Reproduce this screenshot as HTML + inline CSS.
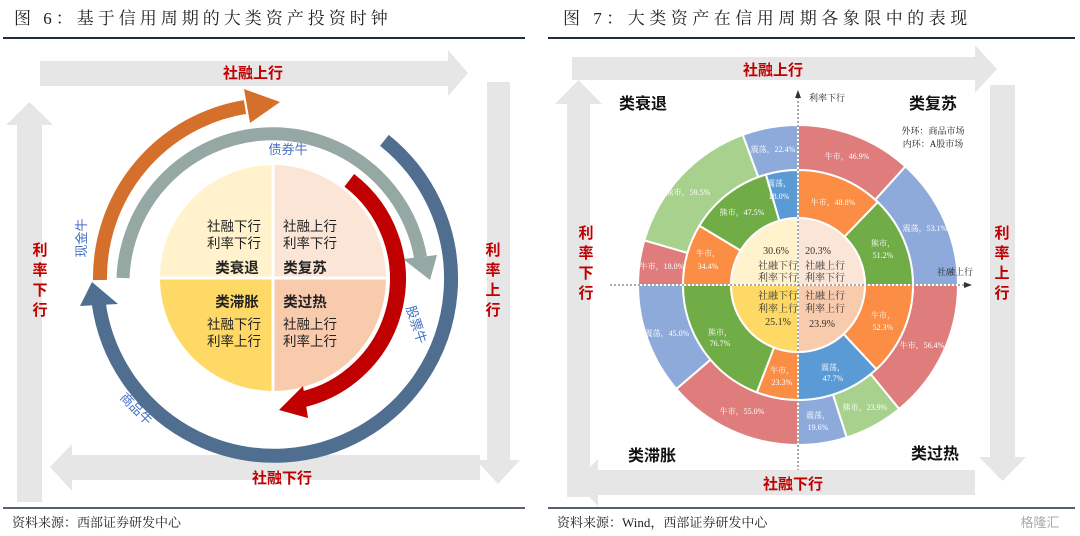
<!DOCTYPE html>
<html><head><meta charset="utf-8">
<style>
html,body{margin:0;padding:0;background:#fff;}
body{width:1080px;height:536px;overflow:hidden;}
svg{display:block;font-family:"Liberation Sans","Noto Sans CJK SC",sans-serif;}
.t{font-family:"Liberation Serif","Noto Serif CJK SC",serif;}
.w{fill:#fff;font-size:8px;text-anchor:middle;}
.c{fill:#333;font-size:10px;text-anchor:middle;}
</style></head><body>
<svg width="1080" height="536" viewBox="0 0 1080 536">
<text class="t" x="14" y="24" font-size="17" fill="#222" letter-spacing="4">图 6：基于信用周期的大类资产投资时钟</text>
<line x1="3" y1="38" x2="525" y2="38" stroke="#1f2d3d" stroke-width="2"/>
<text class="t" x="563" y="24" font-size="17" fill="#222" letter-spacing="4.5">图 7：大类资产在信用周期各象限中的表现</text>
<line x1="548" y1="38" x2="1075" y2="38" stroke="#1f2d3d" stroke-width="2"/>

<g fill="#e6e6e6">
<polygon points="40,61 448,61 448,50 468,73 448,96 448,86 40,86"/>
<polygon points="487,82 510,82 510,460 520,460 498,484 476,460 487,460"/>
<polygon points="480,455 480,480 72,480 72,491 50,467 72,444 72,455"/>
<polygon points="17,502 42,502 42,125 53,125 29.5,102 6,125 17,125"/>
</g>
<text x="253" y="78" font-size="15" font-weight="bold" fill="#c00000" text-anchor="middle">社融上行</text>
<text x="282" y="483" font-size="15" font-weight="bold" fill="#c00000" text-anchor="middle">社融下行</text>
<g font-size="15" font-weight="bold" fill="#c00000" text-anchor="middle">
<text x="40" y="255">利</text><text x="40" y="275">率</text><text x="40" y="295">下</text><text x="40" y="315">行</text>
<text x="493" y="255">利</text><text x="493" y="275">率</text><text x="493" y="295">上</text><text x="493" y="315">行</text>
</g>

<g>
<path d="M160,278 A113,113 0 0 1 273,165 L273,278Z" fill="#fff2cc"/>
<path d="M273,165 A113,113 0 0 1 386,278 L273,278Z" fill="#fbe5d6"/>
<path d="M160,278 A113,113 0 0 0 273,391 L273,278Z" fill="#ffd966"/>
<path d="M273,391 A113,113 0 0 0 386,278 L273,278Z" fill="#f8cbad"/>
<line x1="273" y1="160" x2="273" y2="396" stroke="#fff" stroke-width="3"/>
<line x1="155" y1="278" x2="391" y2="278" stroke="#fff" stroke-width="3"/>
</g>
<path d="M123,278 A150,150 0 0 1 420.5,257.1" fill="none" stroke="#95a8a4" stroke-width="13"/>
<polygon points="430,280 403,259 437,255" fill="#95a8a4"/>
<path d="M100,280 A173,173 0 0 1 245,107" fill="none" stroke="#d5702c" stroke-width="14"/>
<polygon points="280,102 244,89 250,123" fill="#d5702c"/>
<path d="M384.4,140.4 A177,177 0 1 1 98.7,303" fill="none" stroke="#4f6e90" stroke-width="14"/>
<polygon points="92,282 80,306 118,304" fill="#4f6e90"/>
<path d="M349.3,180.3 A124,124 0 0 1 300,400" fill="none" stroke="#c00000" stroke-width="16"/>
<polygon points="279,410 303,386 308,418" fill="#c00000"/>

<g font-size="13" fill="#4472c4">
<text x="288" y="154" text-anchor="middle">债券牛</text>
<text transform="translate(86,238) rotate(-90)" text-anchor="middle">现金牛</text>
<text transform="translate(412,326) rotate(72)" text-anchor="middle">股票牛</text>
<text transform="translate(133,412) rotate(45)" text-anchor="middle">商品牛</text>
</g>
<g font-size="13.5" fill="#222" text-anchor="middle">
<text x="234" y="231">社融下行</text><text x="234" y="248">利率下行</text>
<text x="237" y="273" font-weight="bold" font-size="14.5">类衰退</text>
<text x="310" y="231">社融上行</text><text x="310" y="248">利率下行</text>
<text x="305" y="273" font-weight="bold" font-size="14.5">类复苏</text>
<text x="237" y="307" font-weight="bold" font-size="14.5">类滞胀</text>
<text x="234" y="329">社融下行</text><text x="234" y="346">利率上行</text>
<text x="305" y="307" font-weight="bold" font-size="14.5">类过热</text>
<text x="310" y="329">社融上行</text><text x="310" y="346">利率上行</text>
</g>

<line x1="3" y1="508" x2="525" y2="508" stroke="#1f2d3d" stroke-width="1.5"/>
<text class="t" x="12" y="527" font-size="13" fill="#222">资料来源：西部证券研发中心</text>
<line x1="548" y1="508" x2="1075" y2="508" stroke="#1f2d3d" stroke-width="1.5"/>
<text class="t" x="557" y="527" font-size="13" fill="#222">资料来源：Wind，西部证券研发中心</text>
<text x="1040" y="527" font-size="13" fill="#aaa" text-anchor="middle">格隆汇</text>

<g fill="#e6e6e6">
<polygon points="572,57 975,57 975,45 997,69 975,93 975,80 572,80"/>
<polygon points="990,85 1015,85 1015,457 1026,457 1002.5,481 979,457 990,457"/>
<polygon points="975,470 975,495 598,495 598,506 575,482 598,459 598,470"/>
<polygon points="567,497 590,497 590,104 602,104 578.5,80 555,104 567,104"/>
</g>
<text x="773" y="75" font-size="15" font-weight="bold" fill="#c00000" text-anchor="middle">社融上行</text>
<text x="793" y="489" font-size="15" font-weight="bold" fill="#c00000" text-anchor="middle">社融下行</text>
<g font-size="15" font-weight="bold" fill="#c00000" text-anchor="middle">
<text x="586" y="238">利</text><text x="586" y="258">率</text><text x="586" y="278">下</text><text x="586" y="298">行</text>
<text x="1002" y="238">利</text><text x="1002" y="258">率</text><text x="1002" y="278">上</text><text x="1002" y="298">行</text>
</g>
<g font-size="16" font-weight="bold" fill="#111" text-anchor="middle">
<text x="643" y="109">类衰退</text><text x="933" y="109">类复苏</text>
<text x="652" y="461">类滞胀</text><text x="935" y="459">类过热</text>
</g>
<text x="933" y="134" font-size="9" fill="#222" text-anchor="middle" class="t">外环：商品市场</text>
<text x="933" y="147" font-size="9" fill="#222" text-anchor="middle" class="t">内环：A股市场</text>

<g id="donut" stroke="#fff" stroke-width="2"></g>

<line x1="798" y1="97" x2="798" y2="470" stroke="#555" stroke-dasharray="2,2" stroke-width="1"/>
<polygon points="798,90 795,98 801,98" fill="#333"/>
<line x1="610" y1="285" x2="965" y2="285" stroke="#555" stroke-dasharray="2,2" stroke-width="1"/>
<polygon points="972,285 964,282 964,288" fill="#333"/>
<text x="827" y="101" font-size="9" fill="#222" text-anchor="middle" class="t">利率下行</text>
<text x="955" y="275" font-size="9" fill="#222" text-anchor="middle" class="t">社融上行</text>

<g class="t">
<text class="w" x="773" y="152">震荡，22.4%</text>
<text class="w" x="847" y="159">牛市，46.9%</text>
<text class="w" x="925" y="231">震荡，53.1%</text>
<text class="w" x="688" y="195">熊市，59.5%</text>
<text class="w" x="779" y="186">震荡，</text><text class="w" x="779" y="199">18.0%</text>
<text class="w" x="742" y="215">熊市，47.5%</text>
<text class="w" x="833" y="205">牛市，48.8%</text>
<text class="w" x="883" y="246">熊市，</text><text class="w" x="883" y="258">51.2%</text>
<text class="w" x="708" y="256">牛市，</text><text class="w" x="708" y="269">34.4%</text>
<text class="w" x="662" y="269">牛市，18.0%</text>
<text class="w" x="883" y="318">牛市，</text><text class="w" x="883" y="330">52.3%</text>
<text class="w" x="922" y="348">牛市，56.4%</text>
<text class="w" x="667" y="336">震荡，45.0%</text>
<text class="w" x="720" y="335">熊市，</text><text class="w" x="720" y="346">76.7%</text>
<text class="w" x="782" y="373">牛市，</text><text class="w" x="782" y="385">23.3%</text>
<text class="w" x="833" y="370">震荡，</text><text class="w" x="833" y="381">47.7%</text>
<text class="w" x="865" y="410">熊市，23.9%</text>
<text class="w" x="818" y="418">震荡，</text><text class="w" x="818" y="430">19.6%</text>
<text class="w" x="742" y="414">牛市，55.0%</text>
<text class="c" x="776" y="254">30.6%</text><text class="c" x="818" y="254">20.3%</text>
<text class="c" x="778" y="269">社融下行</text><text class="c" x="778" y="281">利率下行</text>
<text class="c" x="825" y="269">社融上行</text><text class="c" x="825" y="281">利率下行</text>
<text class="c" x="778" y="299">社融下行</text><text class="c" x="778" y="312">利率上行</text><text class="c" x="778" y="325">25.1%</text>
<text class="c" x="825" y="299">社融上行</text><text class="c" x="825" y="312">利率上行</text><text class="c" x="822" y="327">23.9%</text>
</g>
</svg>
<script>
(function(){
var cx=798,cy=285,g=document.getElementById('donut');
function P(r,a){var t=(a-90)*Math.PI/180;return [cx+r*Math.cos(t),cy+r*Math.sin(t)];}
function sec(r0,r1,a0,a1,col){
 var p1=P(r1,a0),p2=P(r1,a1),p3=P(r0,a1),p4=P(r0,a0),l=(a1-a0)>180?1:0;
 var d="M"+p1+" A"+r1+","+r1+" 0 "+l+" 1 "+p2+" L"+p3+" A"+r0+","+r0+" 0 "+l+" 0 "+p4+"Z";
 if(r0==0)d="M"+cx+","+cy+" L"+p1+" A"+r1+","+r1+" 0 "+l+" 1 "+p2+"Z";
 var e=document.createElementNS("http://www.w3.org/2000/svg","path");
 e.setAttribute("d",d);e.setAttribute("fill",col);g.appendChild(e);}
var OR="#df7d7d",OB="#8eaadb",OG="#a9d18e",IO="#fb8d45",IG="#70ad47",IB="#5b9bd5";
var outer=[[0,42.2,OR],[42.2,90,OB],[90,140.8,OR],[140.8,162.3,OG],[162.3,180,OB],[180,229.5,OR],[229.5,270,OB],[270,286.2,OR],[286.2,339.8,OG],[339.8,360,OB]];
var inner=[[0,43.9,IO],[43.9,90,IG],[90,137.1,IO],[137.1,180,IB],[180,201,IO],[201,270,IG],[270,301,IO],[301,343.8,IG],[343.8,360,IB]];
outer.forEach(function(s){sec(115,160,s[0],s[1],s[2]);});
inner.forEach(function(s){sec(67,115,s[0],s[1],s[2]);});
sec(0,67,0,90,"#fbe5d6");sec(0,67,90,180,"#f8cbad");sec(0,67,180,270,"#ffd966");sec(0,67,270,360,"#fff2cc");
})();
</script>
</body></html>
